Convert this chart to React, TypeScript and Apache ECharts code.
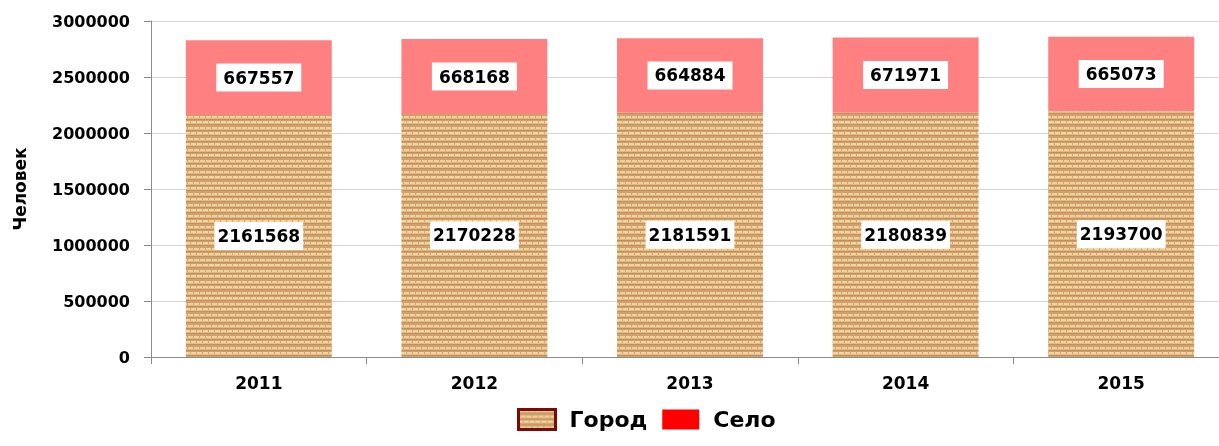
import React, { useEffect, useRef } from "react";
import * as echarts from "echarts";

const years = ["2011", "2012", "2013", "2014", "2015"];
const cityValues = [2161568, 2170228, 2181591, 2180839, 2193700];
const villageValues = [667557, 668168, 664884, 671971, 665073];
const seriesNames = ["Город", "Село"];
const yAxisTitle = "Человек";

function makeBurlap(): string {
  const c = document.createElement("canvas");
  c.width = 12;
  c.height = 11;
  const ctx = c.getContext("2d")!;
  ctx.fillStyle = "#D2A571";
  ctx.fillRect(0, 0, 12, 11);
  // row 1
  ctx.fillStyle = "#F1D49E";
  ctx.fillRect(0, 0, 12, 2);
  ctx.fillStyle = "#E2BC87";
  ctx.fillRect(0, 2, 12, 1);
  ctx.fillStyle = "#D4A873";
  ctx.fillRect(4, 0, 1, 2);
  ctx.fillRect(10, 0, 1, 2);
  ctx.fillStyle = "#C29160";
  ctx.fillRect(0, 3, 12, 1);
  ctx.fillStyle = "#D0A16C";
  ctx.fillRect(0, 4, 12, 1);
  ctx.fillRect(0, 5, 12, 1);
  // row 2 (offset)
  ctx.fillStyle = "#EED09A";
  ctx.fillRect(0, 6, 12, 2);
  ctx.fillStyle = "#DFB884";
  ctx.fillRect(0, 8, 12, 1);
  ctx.fillStyle = "#D4A873";
  ctx.fillRect(1, 6, 1, 2);
  ctx.fillRect(7, 6, 1, 2);
  ctx.fillStyle = "#C08F5D";
  ctx.fillRect(0, 9, 12, 1);
  ctx.fillStyle = "#CFA06B";
  ctx.fillRect(0, 10, 12, 1);
  return c.toDataURL();
}

export default function App() {
  const ref = useRef<HTMLDivElement>(null);
  useEffect(() => {
    if (!ref.current) return;
    const chart = echarts.init(ref.current, undefined, { renderer: "svg" });
    const pattern: any = { image: makeBurlap(), repeat: "repeat", imageWidth: 12, imageHeight: 11 };
    const font = "'DejaVu Sans', Verdana, sans-serif";
    const label = {
      show: true,
      position: "inside",
      backgroundColor: "#FFFFFF",
      color: "#000000",
      fontWeight: "bold",
      fontSize: 17,
      fontFamily: font,
    };
    chart.setOption({
      animation: false,
      textStyle: { fontFamily: font },
      grid: { left: 151, width: 1078, top: 21, bottom: 89, outerBoundsMode: "none", containLabel: false },
      legend: {
        bottom: 10,
        left: 512,
        icon: "rect",
        itemWidth: 37,
        itemHeight: 20,
        itemGap: 15,
        textStyle: { fontSize: 22, fontWeight: "bold", color: "#000", fontFamily: font, padding: [0, 0, 0, 9] },
        data: [
          { name: seriesNames[0], itemStyle: { borderColor: "#7A0A0A", borderWidth: 3 } },
          { name: seriesNames[1], itemStyle: { color: "#FF0000" } },
        ],
      },
      xAxis: {
        type: "category",
        data: years,
        axisLine: { lineStyle: { color: "#8C8C8C" } },
        axisTick: { show: true, length: 7, lineStyle: { color: "#8C8C8C" } },
        axisLabel: { color: "#000", fontWeight: "bold", fontSize: 17, margin: 17, fontFamily: font },
      },
      yAxis: {
        type: "value",
        min: 0,
        max: 3000000,
        interval: 500000,
        name: yAxisTitle,
        nameLocation: "middle",
        nameGap: 123,
        nameTextStyle: { fontSize: 17, fontWeight: "bold", color: "#000", fontFamily: font },
        axisLine: { show: true, lineStyle: { color: "#8C8C8C" } },
        axisTick: { show: true, length: 7, lineStyle: { color: "#8C8C8C" } },
        splitLine: { lineStyle: { color: "#D4D4D4" } },
        axisLabel: {
          color: "#000",
          fontWeight: "bold",
          fontSize: 16,
          margin: 21,
          fontFamily: font,
          formatter: (v: number) => String(v),
        },
      },
      series: [
        {
          name: seriesNames[0],
          type: "bar",
          stack: "total",
          barWidth: "67.7%",
          itemStyle: { color: pattern },
          label: { ...label, padding: [6, 3, 5, 3] },
          data: cityValues,
        },
        {
          name: seriesNames[1],
          type: "bar",
          stack: "total",
          itemStyle: { color: "#FF0000" },
          label: { ...label, padding: [6, 7, 5, 7] },
          data: villageValues.map((v) => ({ value: v, itemStyle: { color: "#FF8080" } })),
        },
      ],
    });
    return () => chart.dispose();
  }, []);
  return <div ref={ref} style={{ position: "fixed", left: 0, top: 0, width: 1219, height: 446 }} />;
}
